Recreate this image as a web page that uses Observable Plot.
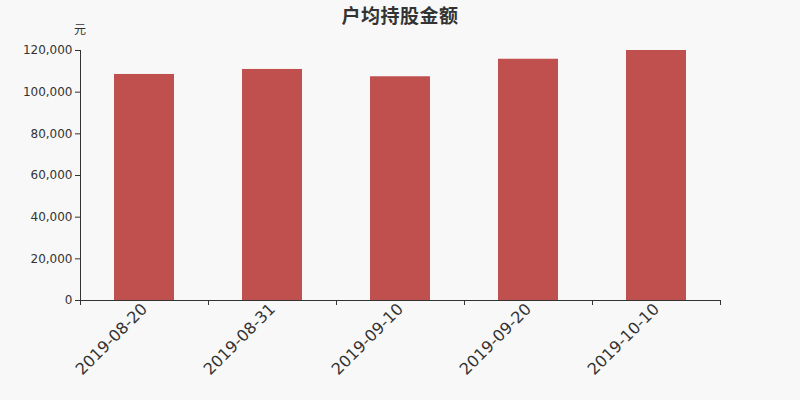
<!DOCTYPE html>
<html>
<head>
<meta charset="utf-8">
<script src="https://cdn.jsdelivr.net/npm/d3@7"></script>
<script src="https://cdn.jsdelivr.net/npm/@observablehq/plot@0.6"></script>
<style>
  html, body { margin: 0; padding: 0; background: #f8f8f8; }
  #wrap { position: relative; width: 800px; height: 400px; background: #f8f8f8; font-family: "DejaVu Sans", "Noto Sans CJK SC", sans-serif; }
  #title { position: absolute; left: 0; width: 800px; top: 1px; text-align: center; font-family: "Noto Sans CJK SC", sans-serif; font-weight: bold; font-size: 19px; color: #333; letter-spacing: 0.5px; }
  #unit { position: absolute; left: 74px; top: 20px; font-family: "Noto Sans CJK SC", sans-serif; font-size: 12px; color: #333; }
  #chart { position: absolute; left: 0; top: 0; }
</style>
</head>
<body>
<div id="wrap">
  <div id="chart"></div>
  <div id="title">户均持股金额</div>
  <div id="unit">元</div>
</div>
<script>
const dates = ["2019-08-20", "2019-08-31", "2019-09-10", "2019-09-20", "2019-10-10"];
const values = [108500, 110900, 107400, 115800, 120000];
const yTicks = [0, 20000, 40000, 60000, 80000, 100000, 120000];

const data = dates.map((d, i) => ({date: d, value: values[i]}));
const step = 128;

const chart = Plot.plot({
  width: 800,
  height: 400,
  marginTop: 50,
  marginBottom: 100,
  marginLeft: 80,
  marginRight: 80,
  style: {background: "transparent", fontFamily: "DejaVu Sans, sans-serif", fontSize: "12px", color: "#333"},
  x: {domain: dates, paddingInner: 0.53, paddingOuter: 0.265, label: null},
  y: {domain: [0, 120000], label: null},
  marks: [
    Plot.barY(data, {x: "date", y: "value", fill: "#c0504d"}),
    Plot.axisY({ticks: yTicks, tickFormat: d3.format(","), tickSize: 5, tickPadding: 3, fontSize: 12, label: null}),
    Plot.axisX({tickSize: 0, tickRotate: -45, fontSize: 16, tickPadding: 6, label: null}),
    Plot.axisX({ticks: dates, tickSize: 5, tickFormat: () => "", dx: -step / 2, label: null}),
    Plot.axisX({ticks: dates.slice(-1), tickSize: 5, tickFormat: () => "", dx: step / 2, label: null}),
    Plot.frame({anchor: "left", stroke: "#333"}),
    Plot.frame({anchor: "bottom", stroke: "#333"})
  ]
});
document.getElementById("chart").appendChild(chart);
</script>
</body>
</html>
